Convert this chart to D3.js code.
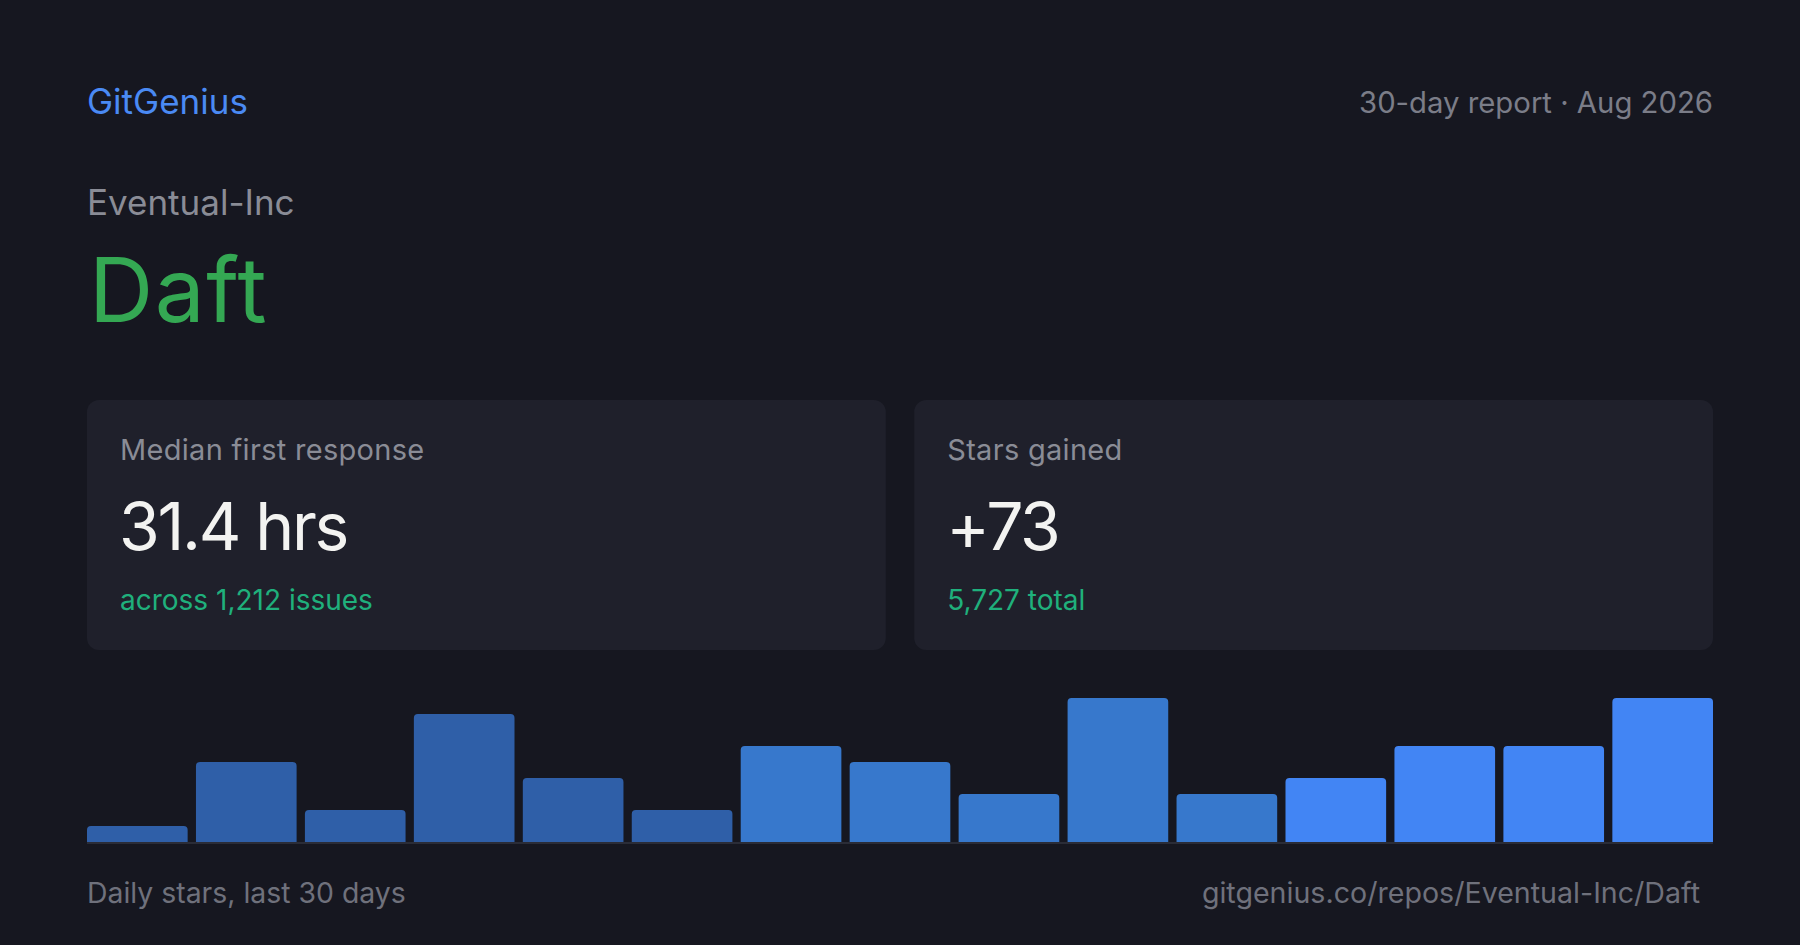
<!DOCTYPE html>
<html>
<head>
<meta charset="utf-8">
<script src="https://cdn.jsdelivr.net/npm/d3@7/dist/d3.min.js"></script>
<style>
  html, body { margin: 0; padding: 0; background: #161720; }
  svg { display: block; }
  text { font-family: Inter, "Noto Sans", sans-serif; }
</style>
</head>
<body>
<svg id="chart" width="1800" height="945"></svg>
<script>
// ---- data ----
const brand = "GitGenius";
const reportLabel = "30-day report · Aug 2026";
const owner = "Eventual-Inc";
const repo = "Daft";
const cardTitles = ["Median first response", "Stars gained"];
const cardValues = ["31.4 hrs", "+73"];
const cardNotes = ["across 1,212 issues", "5,727 total"];
const bins = ["1","2","3","4","5","6","7","8","9","10","11","12","13","14","15"];
const dailyStars = [1, 5, 2, 8, 4, 2, 6, 5, 3, 9, 3, 4, 6, 6, 9];
const footerLeft = "Daily stars, last 30 days";
const footerRight = "gitgenius.co/repos/Eventual-Inc/Daft";

// ---- drawing ----
const W = 1800, H = 945;
const padL = 87, padR = 87;
const svg = d3.select("#chart");

svg.append("rect").attr("width", W).attr("height", H).attr("fill", "#161720");

svg.append("text").attr("x", padL).attr("y", 114)
  .attr("font-size", 35).attr("fill", "#4a8af4").text(brand);
svg.append("text").attr("x", W - padR).attr("y", 113).attr("text-anchor", "end")
  .attr("font-size", 29.3).attr("fill", "#7b7d88").text(reportLabel);

svg.append("text").attr("x", padL).attr("y", 215)
  .attr("font-size", 35).attr("fill", "#8a8c96").text(owner);
svg.append("text").attr("x", padL + 2).attr("y", 322)
  .attr("font-size", 89).attr("letter-spacing", "1.5").attr("fill", "#34a853").text(repo);

// cards
const cardX = d3.scaleBand().domain(d3.range(cardTitles.length))
  .range([padL, W - padR]).paddingInner(28 / 813);
const cardTop = 400, cardH = 250;
const cards = svg.selectAll("g.card").data(cardTitles).join("g").attr("class", "card")
  .attr("transform", (d, i) => `translate(${cardX(i)},${cardTop})`);
cards.append("rect").attr("width", cardX.bandwidth()).attr("height", cardH)
  .attr("rx", 12).attr("fill", "#1f202b");
cards.append("text").attr("x", 33).attr("y", 60).attr("font-size", 29)
  .attr("letter-spacing", "0.3").attr("fill", "#8a8c96").text(d => d);
cards.append("text").attr("x", 32).attr("y", 150).attr("font-size", 66)
  .attr("letter-spacing", "-2.3").attr("fill", "#f3f3f1").text((d, i) => cardValues[i]);
cards.append("text").attr("x", 33).attr("y", 210).attr("font-size", 28)
  .attr("fill", "#1fb07c").text((d, i) => cardNotes[i]);

// bars
const baseY = 842, chartH = 144;
const x = d3.scaleBand().domain(bins).range([padL, W - padR]).paddingInner(8.3 / 108.9);
const y = d3.scaleLinear().domain([0, d3.max(dailyStars)]).range([baseY, baseY - chartH]);
const tier = d3.scaleThreshold().domain([6, 11]).range(["#2f5fa8", "#3778cc", "#4285f4"]);

function topRounded(x0, y0, w, h, r) {
  r = Math.min(r, h, w / 2);
  return `M${x0},${y0 + h}V${y0 + r}Q${x0},${y0} ${x0 + r},${y0}H${x0 + w - r}Q${x0 + w},${y0} ${x0 + w},${y0 + r}V${y0 + h}Z`;
}

svg.append("g").selectAll("path").data(dailyStars).join("path")
  .attr("d", (d, i) => topRounded(x(bins[i]), y(d), x.bandwidth(), baseY - y(d), 4))
  .attr("fill", (d, i) => tier(i));

svg.append("line").attr("x1", x.range()[0]).attr("x2", x.range()[1])
  .attr("y1", baseY + 1).attr("y2", baseY + 1)
  .attr("stroke", "#2a2c37").attr("stroke-width", 2);

svg.append("text").attr("x", padL).attr("y", 903).attr("font-size", 28.4)
  .attr("fill", "#6f717c").text(footerLeft);
svg.append("text").attr("x", 1700).attr("y", 903).attr("text-anchor", "end")
  .attr("font-size", 28.6).attr("fill", "#6f717c").text(footerRight);
</script>
</body>
</html>
